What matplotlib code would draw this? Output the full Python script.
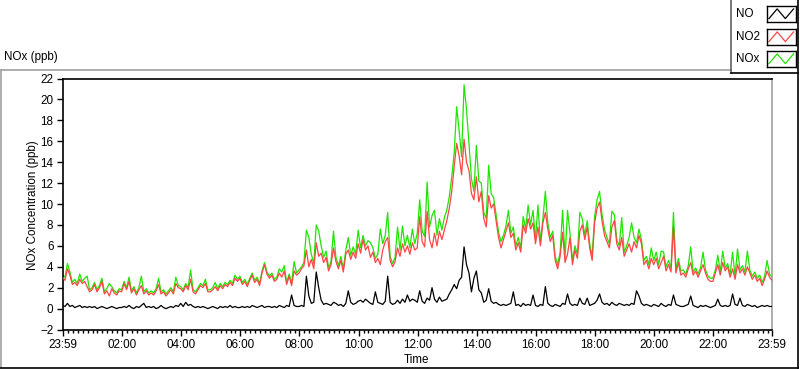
import numpy as np
import matplotlib
matplotlib.use("Agg")
import matplotlib.pyplot as plt
from matplotlib.lines import Line2D
from matplotlib.ticker import FixedLocator

plt.rcParams['font.family'] = ['Liberation Sans', 'DejaVu Sans']

# minutes after 23:59, one reading every 5 minutes
minutes = np.arange(0, 1445, 5)

no2_ppb = [
    3.0, 2.7, 3.8, 3.2, 2.3, 2.5, 2.2, 2.8, 2.4, 2.6, 2.1, 1.6,
    1.8, 2.3, 1.6, 2.0, 2.6, 1.4, 1.7, 1.2, 1.9, 1.5, 1.3, 1.7,
    1.6, 2.4, 1.8, 2.6, 1.5, 1.9, 1.3, 1.8, 2.2, 1.4, 1.7, 1.3,
    1.5, 1.3, 1.7, 2.3, 1.4, 1.6, 1.2, 1.5, 1.8, 1.4, 2.4, 2.0,
    1.9, 1.6, 2.2, 1.8, 2.8, 1.6, 1.4, 1.8, 2.2, 2.0, 2.4, 1.6,
    1.6, 1.8, 2.1, 1.7, 2.2, 1.9, 2.3, 2.1, 2.5, 2.2, 2.9, 2.6,
    2.9, 2.3, 2.6, 2.1, 2.7, 3.2, 2.5, 2.8, 2.2, 3.4, 4.2, 3.3,
    2.9, 3.2, 2.6, 2.8, 3.4, 3.0, 3.6, 2.3, 3.1, 2.2, 3.6, 3.2,
    3.4, 3.8, 4.1, 5.6, 4.0, 4.7, 3.8, 6.3, 5.0, 5.3, 4.4, 4.9,
    3.6, 4.2, 5.8, 4.5, 3.8, 4.6, 3.5, 5.2, 5.6, 4.7, 5.4, 4.8,
    6.2, 5.3, 6.6, 5.6, 6.0, 4.9, 5.4, 4.4, 4.8, 4.2, 5.6, 6.4,
    6.8, 4.6, 4.0, 4.5, 5.8, 5.0, 6.2, 5.4, 6.0, 5.2, 6.3, 5.6,
    5.8, 8.8, 6.4, 5.9, 9.3, 6.6, 5.8, 7.2, 6.0, 7.4, 6.6, 7.5,
    8.4, 9.6, 11.2, 13.6, 15.8, 14.6, 12.8, 16.2, 14.0, 13.2, 11.0, 10.4,
    12.6, 10.2, 11.2, 8.6, 7.8, 10.8, 9.6, 10.0, 8.4, 6.8, 5.8, 6.6,
    7.4, 8.2, 6.8, 7.2, 5.6, 6.3, 5.4, 8.0, 7.2, 8.6, 7.6, 8.2,
    6.2, 7.8, 6.0, 8.2, 9.2, 7.6, 6.4, 7.0, 4.6, 3.8, 5.0, 7.3,
    4.4, 5.2, 6.8, 4.2, 5.6, 4.8, 7.4, 8.0, 6.6, 7.8, 5.8, 4.6,
    8.2, 9.6, 10.2, 8.4, 7.0, 6.4, 5.8, 7.8, 8.4, 6.2, 5.6, 6.8,
    5.0, 5.6, 6.2, 5.4, 6.4, 5.8, 7.0, 6.2, 4.2, 4.6, 3.8, 4.8,
    4.2, 4.8, 3.8, 4.4, 5.0, 3.6, 4.2, 3.5, 7.8, 3.4, 4.4, 3.2,
    3.4, 3.0, 3.8, 4.4, 3.2, 3.6, 3.0, 3.6, 4.2, 3.4, 2.8, 2.6,
    2.6, 3.4, 4.2, 3.2, 4.4, 3.6, 4.0, 3.0, 3.8, 2.8, 4.2, 3.4,
    3.8, 3.2, 4.0, 3.4, 2.8, 3.2, 2.6, 2.9, 2.2, 2.8, 3.6, 3.0, 2.7,
]

nox_ppb = [
    3.2, 3.0, 4.3, 3.5, 2.5, 2.8, 2.4, 3.3, 2.6, 2.9, 3.1, 1.8,
    2.0, 2.5, 1.8, 2.2, 2.9, 1.6, 1.9, 2.4, 2.1, 1.7, 1.5, 1.9,
    1.8, 2.6, 2.0, 3.0, 1.7, 2.1, 1.5, 2.0, 3.1, 1.6, 1.9, 1.5,
    1.7, 1.5, 1.9, 2.9, 1.6, 1.8, 1.4, 1.7, 2.0, 1.6, 3.0, 2.2,
    2.1, 1.8, 2.4, 2.0, 3.7, 1.8, 1.6, 2.0, 2.4, 2.2, 2.8, 1.8,
    1.8, 2.0, 2.5, 1.9, 2.4, 2.1, 2.5, 2.3, 2.7, 2.4, 3.2, 2.8,
    3.1, 2.5, 2.8, 2.3, 2.9, 3.4, 2.7, 3.0, 2.4, 3.6, 4.4, 3.5,
    3.1, 3.4, 2.8, 3.0, 3.8, 3.5, 4.1, 2.5, 3.3, 2.4, 4.5, 3.4,
    3.7, 4.0, 4.4, 7.5, 6.8, 5.2, 4.3, 8.0, 7.4, 6.0, 4.9, 5.5,
    3.9, 4.5, 7.4, 4.9, 4.1, 5.0, 3.8, 5.6, 6.8, 5.1, 5.9, 5.2,
    7.5, 5.8, 7.0, 6.0, 6.5, 6.3, 5.8, 4.8, 5.2, 7.6, 6.2, 7.0,
    9.2, 5.0, 4.3, 4.9, 7.8, 5.6, 7.9, 6.0, 7.0, 5.8, 7.6, 6.2,
    7.2, 10.4, 7.4, 6.9, 12.1, 7.8, 8.9, 9.4, 7.0, 8.6, 7.5, 8.7,
    9.4, 10.7, 12.6, 14.9, 19.3, 17.0, 14.5, 21.4, 19.0, 15.8, 12.4, 11.2,
    15.6, 12.2, 12.0, 9.2, 8.6, 13.7, 11.0, 10.6, 9.0, 7.3, 6.4, 7.0,
    7.9, 9.4, 7.2, 7.8, 6.0, 6.8, 5.8, 8.8, 7.6, 9.9, 8.0, 9.4,
    6.6, 9.9, 6.4, 8.6, 11.2, 8.2, 6.8, 7.4, 5.0, 4.2, 5.4, 9.4,
    4.8, 9.4, 7.2, 4.6, 6.0, 5.2, 9.2, 8.6, 7.0, 8.4, 6.2, 5.0,
    8.8, 10.4, 11.2, 9.0, 7.6, 6.8, 6.2, 9.3, 9.0, 6.6, 6.0, 8.7,
    5.4, 6.0, 6.8, 8.2, 6.8, 6.3, 7.6, 6.6, 4.6, 5.0, 4.2, 5.8,
    4.6, 5.4, 4.2, 5.5, 5.4, 4.0, 4.6, 3.9, 9.2, 3.8, 4.8, 3.6,
    3.7, 3.3, 4.1, 5.9, 3.5, 3.9, 3.3, 3.9, 5.4, 3.7, 3.1, 2.9,
    2.9, 3.7, 5.1, 3.5, 5.5, 3.9, 4.3, 3.3, 5.4, 3.1, 5.7, 3.7,
    4.1, 3.5, 5.5, 3.7, 3.1, 3.5, 2.9, 3.2, 2.5, 3.1, 4.6, 3.3, 3.0,
]

no_ppb = [
    0.3, 0.2, 0.5, 0.2, 0.3, 0.1, 0.2, 0.3, 0.1, 0.2, 0.1, 0.2,
    0.1, 0.2, 0.0, 0.1, 0.2, 0.1, 0.0, 0.1, 0.2, 0.1, 0.0, 0.1,
    0.1, 0.2, 0.1, 0.3, 0.1, 0.0, 0.2, 0.1, 0.3, 0.5, 0.1, 0.2,
    0.1, 0.2, 0.0, 0.1, 0.3, 0.1, 0.0, 0.1, 0.2, 0.1, 0.3, 0.2,
    0.5, 0.2, 0.6, 0.3, 0.4, 0.2, 0.1, 0.2, 0.1, 0.2, 0.1, 0.0,
    0.1, 0.2, 0.1, 0.0, 0.2, 0.1, 0.2, 0.1, 0.3, 0.1, 0.2, 0.1,
    0.1, 0.2, 0.1, 0.2, 0.1, 0.3, 0.2, 0.1, 0.2, 0.3, 0.1, 0.2,
    0.2, 0.1, 0.2, 0.1, 0.3, 0.2, 0.1, 0.3, 0.2, 1.3, 0.3, 0.2,
    0.2, 0.3, 0.2, 3.1, 1.2, 0.5, 0.6, 3.5, 2.0, 0.8, 0.4, 0.5,
    0.4, 0.3, 0.6, 0.5, 0.3, 0.4, 0.2, 0.5, 1.7, 0.6, 0.4, 0.5,
    0.7, 0.8, 0.6, 0.9, 0.7, 0.5, 0.4, 1.6, 0.6, 0.5, 0.4, 0.7,
    3.1, 0.6, 0.4, 0.5, 0.8, 0.5, 0.9, 0.6, 1.3, 0.7, 0.9, 0.8,
    0.6, 1.7, 0.7, 0.5, 1.0, 0.8, 2.0, 0.9, 0.6, 1.1, 0.7, 0.8,
    0.9, 1.4, 1.8, 2.3, 1.9, 2.7, 3.0, 5.9, 4.2, 3.4, 1.6, 2.9,
    3.6, 1.8, 1.5, 0.6, 0.8, 1.9, 0.7, 0.5, 0.6, 0.4, 0.3, 0.4,
    0.3, 0.4, 0.5, 1.6, 0.3, 0.4, 0.2, 0.5, 0.3, 0.4, 0.3, 1.3,
    0.3, 0.2, 0.4, 0.3, 2.1, 0.5, 0.3, 0.2, 0.4, 0.3, 0.2, 0.5,
    0.4, 1.4, 0.5, 0.3, 0.4, 0.3, 1.0, 0.5, 0.4, 1.0, 0.3, 0.4,
    0.5, 0.8, 1.4, 0.6, 0.4, 0.5, 0.3, 0.6, 0.4, 0.3, 0.5, 0.4,
    0.3, 0.4, 0.3, 0.5, 0.4, 1.7, 1.2, 0.5, 0.3, 0.4, 0.3, 0.2,
    0.4, 0.3, 0.2, 0.5, 0.3, 0.2, 0.4, 0.3, 1.3, 0.4, 0.3, 0.2,
    0.2, 0.3, 0.4, 1.2, 0.3, 0.2, 0.1, 0.3, 0.2, 0.3, 0.2, 0.1,
    0.2, 0.3, 0.9, 0.3, 0.2, 0.3, 0.2, 0.3, 1.4, 0.4, 0.3, 1.0,
    0.3, 0.2, 0.4, 0.3, 0.2, 0.3, 0.1, 0.2, 0.3, 0.2, 0.3, 0.2, 0.2,
]

# major ticks every two hours (minutes after 23:59)
tick_minutes = [0, 121, 241, 361, 481, 601, 721, 841, 961, 1081, 1201, 1321, 1440]
tick_labels = ['23:59', '02:00', '04:00', '06:00', '08:00', '10:00', '12:00',
               '14:00', '16:00', '18:00', '20:00', '22:00', '23:59']
series_names = ['NO', 'NO2', 'NOx']
series_colors = ['#000000', '#ff4545', '#1ee600']

W, H = 800, 369
FS = 8.4


def fx(x):
    return x / W


def fy(y):
    return 1 - y / H


def hline(fig, x0, x1, y, color):
    fig.add_artist(Line2D([fx(x0), fx(x1)], [fy(y), fy(y)], color=color, lw=1.2))


def vline(fig, x, y0, y1, color):
    fig.add_artist(Line2D([fx(x), fx(x)], [fy(y0), fy(y1)], color=color, lw=1.2))


def main():
    fig = plt.figure(figsize=(W / 100, H / 100), dpi=100)

    ax = fig.add_axes([fx(62.5), fy(329.5), fx(772) - fx(62.5), fy(78.5) - fy(329.5)])
    ax.plot(minutes, nox_ppb, color=series_colors[2], lw=0.9, zorder=2)
    ax.plot(minutes, no2_ppb, color=series_colors[1], lw=0.9, zorder=3)
    ax.plot(minutes, no_ppb, color=series_colors[0], lw=0.9, zorder=4)

    ax.set_xlim(0, 1440)
    ax.set_ylim(-2, 22)
    ax.set_yticks(np.arange(-2, 23, 2))
    ax.set_xticks(tick_minutes)
    ax.set_xticklabels(tick_labels)
    ax.xaxis.set_minor_locator(FixedLocator(
        [m for m in range(11, 1440, 10) if (m - 1) % 120 != 0]))
    ax.tick_params(axis='both', which='major', labelsize=FS, length=4.5, width=1, pad=2)
    ax.tick_params(axis='x', which='minor', length=2, width=1)

    for side in ['left', 'bottom', 'top']:
        ax.spines[side].set_color('black')
        ax.spines[side].set_linewidth(1.2)
    ax.spines['right'].set_color('#a0a0a0')
    ax.spines['right'].set_linewidth(1.2)

    fig.text(fx(33), fy(205), 'NOx Concentration (ppb)', rotation=90,
             ha='center', va='center', fontsize=FS)
    fig.text(fx(417), fy(360), 'Time', ha='center', va='center', fontsize=FS)
    fig.text(fx(4), fy(57), 'NOx (ppb)', ha='left', va='center', fontsize=FS)

    # panel frame
    hline(fig, 0, 731, 69.5, '#a0a0a0')
    vline(fig, 0.7, 69.5, 367, '#a0a0a0')
    hline(fig, 0, 798, 367.5, '#000000')
    vline(fig, 797.5, 0, 367.5, '#000000')

    # legend box
    vline(fig, 730.5, 0, 72.5, '#606060')
    hline(fig, 730.5, 798, 72.5, '#000000')
    label_y = [14, 37, 59]
    for name, color, ly in zip(series_names, series_colors, label_y):
        fig.text(fx(736), fy(ly), name, ha='left', va='center', fontsize=FS)
        sw = fig.add_axes([fx(766.5), fy(ly + 7.5), fx(796) - fx(766.5), fy(ly - 8) - fy(ly + 7.5)])
        sw.plot([0, 1, 2, 3], [0, 1, 0, 1], color=color, lw=0.9)
        sw.set_xlim(-0.3, 3.3)
        sw.set_ylim(-0.3, 1.3)
        sw.set_xticks([])
        sw.set_yticks([])
        for s in sw.spines.values():
            s.set_color('black')
            s.set_linewidth(1)

    fig.savefig('out.png', dpi=100)


if __name__ == '__main__':
    main()
